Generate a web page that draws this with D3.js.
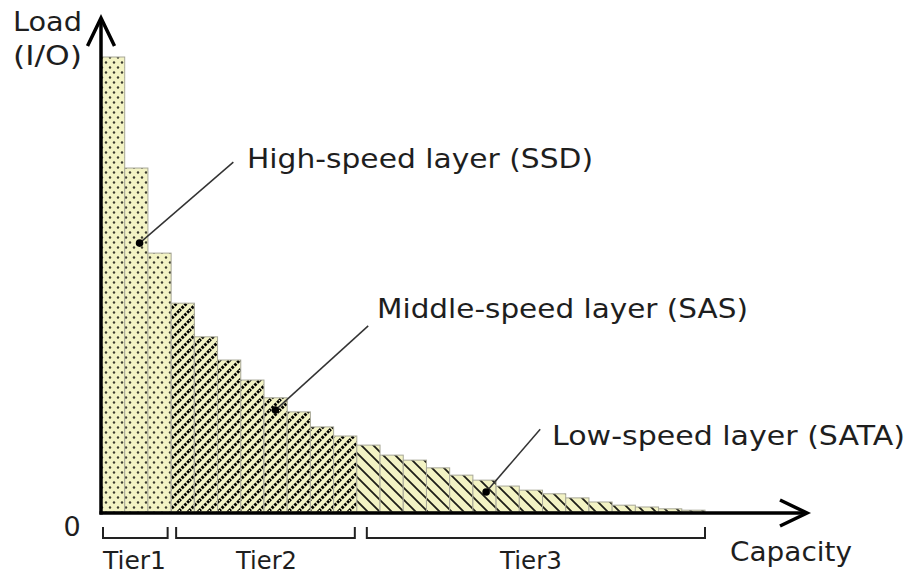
<!DOCTYPE html>
<html>
<head>
<meta charset="utf-8">
<script src="https://cdn.jsdelivr.net/npm/d3@7"></script>
<style>
  html, body { margin: 0; padding: 0; background: #fff; }
  svg { display: block; }
  text { font-family: "DejaVu Sans", Verdana, sans-serif; fill: #1e1e1e; }
</style>
</head>
<body>
<svg id="chart" width="909" height="576"></svg>
<script>
// ---- data ----
const tiers = ["Tier1", "Tier2", "Tier3"];
const tierCounts = [3, 8, 15];
const loads = [100, 75.6, 56.9, 45.9, 38.5, 33.4, 29.0, 25.1, 22.0, 18.7, 16.7,
               14.7, 12.5, 11.4, 9.7, 8.1, 7.0, 5.7, 4.8, 4.0, 3.1, 2.2, 1.5, 1.1, 0.7, 0.4];
const layerLabels = ["High-speed layer (SSD)", "Middle-speed layer (SAS)", "Low-speed layer (SATA)"];
// annotation anchors in data units: [capacity, load]
const pointerFrom = [[1.64, 59.1], [7.49, 22.4], [16.57, 4.4]];
const pointerTo = [[5.68, 76.9], [11.49, 40.9], [18.9, 18.2]];
const yAxisTitle = ["Load", "(I/O)"];
const xAxisTitle = "Capacity";
const yTickLabels = ["0"];

// ---- scales ----
const svg = d3.select("#chart");
const x = d3.scaleLinear().domain([0, loads.length]).range([101.5, 705]);
const y = d3.scaleLinear().domain([0, 100]).range([512, 57]);

// tier index per bar
const tierOf = [];
tierCounts.forEach((c, t) => { for (let i = 0; i < c; i++) tierOf.push(t); });
const tierStart = tierCounts.map((c, t) => d3.sum(tierCounts.slice(0, t)));

// ---- patterns ----
const defs = svg.append("defs");
const bg = "#f3f3c4";

const p1 = defs.append("pattern").attr("id", "pat0").attr("patternUnits", "userSpaceOnUse")
  .attr("width", 8).attr("height", 10);
p1.append("rect").attr("width", 8).attr("height", 10).attr("fill", bg);
p1.append("circle").attr("cx", 2).attr("cy", 2.5).attr("r", 1.2).attr("fill", "#3a3a2e");
p1.append("circle").attr("cx", 6).attr("cy", 7.5).attr("r", 1.2).attr("fill", "#3a3a2e");

const p2 = defs.append("pattern").attr("id", "pat1").attr("patternUnits", "userSpaceOnUse")
  .attr("width", 10).attr("height", 10);
p2.append("rect").attr("width", 10).attr("height", 10).attr("fill", bg);
p2.append("path").attr("d", "M-1,11 L11,-1 M-1,1 L1,-1 M9,11 L11,9")
  .attr("stroke", "#000").attr("stroke-width", 3.0).attr("stroke-dasharray", "2.6 1.3");

const p3 = defs.append("pattern").attr("id", "pat2").attr("patternUnits", "userSpaceOnUse")
  .attr("width", 12).attr("height", 12);
p3.append("rect").attr("width", 12).attr("height", 12).attr("fill", bg);
p3.append("path").attr("d", "M-1,-1 L13,13 M-1,11 L1,13 M11,-1 L13,1")
  .attr("stroke", "#1e1e18").attr("stroke-width", 1.8);

// ---- bars ----
svg.append("g").selectAll("rect").data(loads).join("rect")
  .attr("x", (d, i) => x(i))
  .attr("y", d => y(d))
  .attr("width", (d, i) => x(i + 1) - x(i))
  .attr("height", d => y(0) - y(d))
  .attr("fill", (d, i) => `url(#pat${tierOf[i]})`)
  .attr("stroke", "#a8a898")
  .attr("stroke-width", 1);

// ---- axes ----
const axes = svg.append("g").attr("stroke", "#000").attr("stroke-width", 3.5).attr("fill", "none");
axes.append("line").attr("x1", x(0) - 0.5).attr("x2", x(0) - 0.5).attr("y1", y(0) + 2.5).attr("y2", 19);
axes.append("path").attr("d", `M${x(0) - 14},46 L${x(0) - 0.5},18 L${x(0) + 13},46`);
axes.append("line").attr("x1", x(0) - 2).attr("x2", 806).attr("y1", y(0) + 1).attr("y2", y(0) + 1);
axes.append("path").attr("d", `M780,500 L807,${y(0) + 1} L780,526`);

// ---- tier brackets ----
const br = svg.append("g").attr("stroke", "#222").attr("stroke-width", 2).attr("fill", "none");
const bracketPad = [[1.5, -3.5], [5, -2], [10, 0]];
tiers.forEach((t, k) => {
  const x0 = x(tierStart[k]) + bracketPad[k][0];
  const x1 = x(tierStart[k] + tierCounts[k]) + bracketPad[k][1];
  br.append("path").attr("d", `M${x0},527 L${x0},538 L${x1},538 L${x1},527`);
});
const tierTextX = [103, 236, 500];
svg.append("g").selectAll("text").data(tiers).join("text")
  .attr("x", (d, i) => tierTextX[i]).attr("y", 569)
  .attr("font-size", 25).attr("textLength", (d, i) => [63, 61, 62][i])
  .attr("lengthAdjust", "spacingAndGlyphs")
  .text(d => d);

// ---- axis titles ----
svg.append("text").attr("x", 13).attr("y", 31).attr("font-size", 27)
  .attr("textLength", 69).attr("lengthAdjust", "spacingAndGlyphs").text(yAxisTitle[0]);
svg.append("text").attr("x", 13).attr("y", 65).attr("font-size", 27)
  .attr("textLength", 69).attr("lengthAdjust", "spacingAndGlyphs").text(yAxisTitle[1]);
svg.append("text").attr("x", 730).attr("y", 561).attr("font-size", 26)
  .attr("textLength", 122).attr("lengthAdjust", "spacingAndGlyphs").text(xAxisTitle);
svg.append("text").attr("x", 72).attr("y", 536).attr("font-size", 27)
  .attr("text-anchor", "middle").text(yTickLabels[0]);

// ---- annotations ----
const labelPos = [[247, 168, 346], [377, 318, 371], [552, 445, 353]];
const ann = svg.append("g");
layerLabels.forEach((lab, i) => {
  const [fx, fy] = pointerFrom[i];
  const [tx, ty] = pointerTo[i];
  ann.append("line").attr("x1", x(fx)).attr("y1", y(fy)).attr("x2", x(tx)).attr("y2", y(ty))
    .attr("stroke", "#333").attr("stroke-width", 1.5);
  ann.append("circle").attr("cx", x(fx)).attr("cy", y(fy)).attr("r", 3.8).attr("fill", "#000");
  ann.append("text").attr("x", labelPos[i][0]).attr("y", labelPos[i][1])
    .attr("font-size", 27).attr("textLength", labelPos[i][2]).attr("lengthAdjust", "spacingAndGlyphs")
    .text(lab);
});
</script>
</body>
</html>
